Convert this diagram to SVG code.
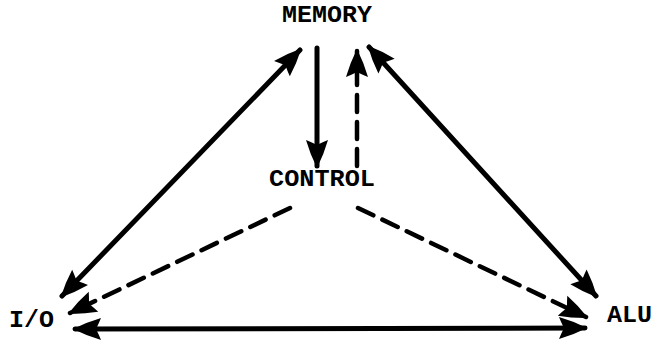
<svg xmlns="http://www.w3.org/2000/svg" width="654" height="344" viewBox="0 0 654 344">
  <style>
    .label { font-family: "Liberation Mono", "DejaVu Sans Mono", monospace; font-weight: bold; font-size: 24px; fill: #000; }
    .solid { stroke: #000; stroke-width: 5; fill: none; stroke-linecap: round; }
    .dashed { stroke: #000; stroke-width: 4.5; fill: none; stroke-dasharray: 17 10; stroke-linecap: round; }
  </style>
  <defs>
    <!-- swept-back barbed arrowhead, reversed at line starts -->
    <marker id="head" markerUnits="userSpaceOnUse" viewBox="-30 -14 33 28" refX="0" refY="0" markerWidth="33" markerHeight="28" orient="auto-start-reverse">
      <path d="M2,0 Q-12,-7 -26,-11 Q-24,-6 -22,-2 L-22,2 Q-24,6 -26,11 Q-12,7 2,0 Z" fill="#000"/>
    </marker>
  </defs>

  <rect width="654" height="344" fill="#fff"/>

  <g id="connectors">
    <!-- memory <-> I/O -->
    <line class="solid" x1="300" y1="50" x2="62" y2="296" marker-start="url(#head)" marker-end="url(#head)"/>
    <!-- memory <-> ALU -->
    <line class="solid" x1="369" y1="47" x2="596" y2="296" marker-start="url(#head)" marker-end="url(#head)"/>
    <!-- memory -> control -->
    <line class="solid" x1="317" y1="48" x2="317" y2="166" marker-end="url(#head)"/>
    <!-- control -> memory (dashed) -->
    <line class="dashed" x1="357" y1="166" x2="357" y2="51" marker-end="url(#head)"/>
    <!-- control -> I/O (dashed) -->
    <line class="dashed" x1="290" y1="208" x2="70" y2="313" marker-end="url(#head)"/>
    <!-- control -> ALU (dashed) -->
    <line class="dashed" x1="358" y1="208" x2="586" y2="317" marker-end="url(#head)"/>
    <!-- I/O <-> ALU -->
    <line class="solid" x1="75" y1="329" x2="585" y2="328" marker-start="url(#head)" marker-end="url(#head)"/>
  </g>

  <g id="memory">
    <text class="label" x="282" y="22" textLength="90" lengthAdjust="spacingAndGlyphs">MEMORY</text>
  </g>
  <g id="control">
    <text class="label" x="269" y="186" textLength="106" lengthAdjust="spacingAndGlyphs">CONTROL</text>
  </g>
  <g id="io">
    <text class="label" x="9" y="327" textLength="45" lengthAdjust="spacingAndGlyphs">I/O</text>
  </g>
  <g id="alu">
    <text class="label" x="607" y="322" textLength="45" lengthAdjust="spacingAndGlyphs">ALU</text>
  </g>
</svg>
